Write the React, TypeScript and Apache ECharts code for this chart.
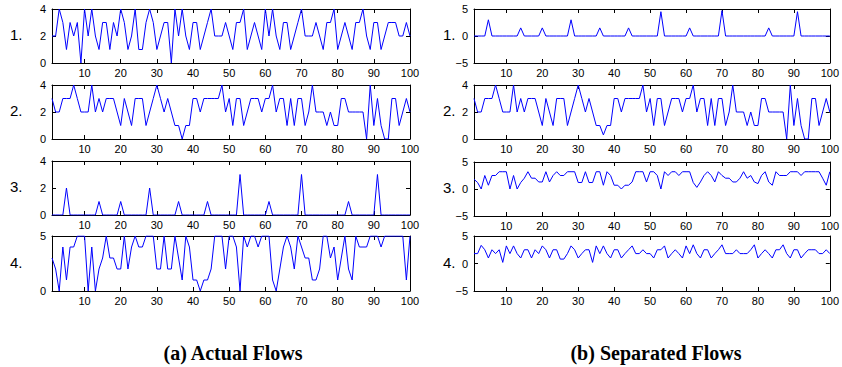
import React, { useEffect, useRef } from "react";
import * as echarts from "echarts";

const xTicks = [10, 20, 30, 40, 50, 60, 70, 80, 90, 100];

const actualFlow1 = [2,2,4,3,1,3,2,3,0,4, 2,4,2,1,3,3,1,3,2,4, 3,1,2,4,1,1,3,4,3,1, 2,3,3,0,4,2,4,2,1,3, 3,1,2,3,4,2,2,2,3,2, 1,3,3,4,1,2,3,2,1,4, 2,4,2,1,3,3,1,2,3,4, 2,2,2,3,2,1,3,3,4,1, 2,3,2,1,3,3,4,2,1,3, 3,1,2,3,3,3,2,2,3,2];
const actualFlow2 = [3,2,2,3,3,3,4,3,2,2, 2,4,2,3,2,3,3,3,2,1, 3,2,1,3,3,3,1,2,3,4, 3,2,3,2,1,1,0,1,1,3, 3,2,3,3,3,3,3,4,2,3, 1,3,3,1,2,3,3,3,2,3, 3,4,2,3,3,1,3,1,3,3, 1,2,4,2,2,2,1,2,1,1, 3,3,2,2,2,2,2,0,4,1, 3,1,0,0,3,3,1,2,3,2];
const actualFlow3 = [0,0,0,0,2,0,0,0,0,0, 0,0,0,1,0,0,0,0,0,1, 0,0,0,0,0,0,0,2,0,0, 0,0,0,0,0,1,0,0,0,0, 0,0,0,1,0,0,0,0,0,0, 0,0,3,0,0,0,0,0,0,0, 1,0,0,0,0,0,0,0,0,3, 0,0,0,0,0,0,0,0,0,0, 0,0,1,0,0,0,0,0,0,0, 3,0,0,0,0,0,0,0,0,0];
const actualFlow4 = [3,2,0,4,1,4,4,5,5,5, 0,4,0,2,3,5,3,3,2,2, 5,2,4,5,4,4,5,5,5,2, 2,5,2,2,5,3,1,5,4,1, 1,0,1,1,2,5,5,5,2,5, 5,4,0,5,4,5,5,4,5,5, 5,1,0,2,4,5,4,2,5,4, 3,3,1,1,2,5,5,3,4,1, 3,5,2,1,5,4,4,4,5,5, 5,4,5,5,5,5,5,5,1,5];

const sepFlow1 = [0,0,0,0,3,0,0,0,0,0, 0,0,0,1.5,0,0,0,0,0,1.5, 0,0,0,0,0,0,0,3,0,0, 0,0,0,0,0,1.5,0,0,0,0, 0,0,0,1.5,0,0,0,0,0,0, 0,0,4.5,0,0,0,0,0,0,0, 1.5,0,0,0,0,0,0,0,0,4.7, 0,0,0,0,0,0,0,0,0,0, 0,0,1.5,0,0,0,0,0,0,0, 4.5,0,0,0,0,0,0,0,0,0];
const sepFlow2 = [3,2,2,3,3,3,4,3,2,2, 2,4,2,3,2,3,3,3,2,1, 3,2,1,3,3,3,1,2,3,4, 3,2,3,2,1,1,0.3,1,1,3, 3,2,3,3,3,3,3,4,2,3, 1,3,3,1,2,3,3,3,2,3, 3,4,2,3,3,1,3,1,3,3, 1,2,4,2,2,2,1,2,1,1, 3,3,2,2,2,2,2,0,4,1, 3,1,0,0,3,3,1,2,3,2];
const sepFlow3 = [1.8,1.2,0,2.5,0.7,2.5,2.5,3.2,3.2,3.2, 0,2.5,0,1.2,2,3.2,2,2,1.3,1.3, 3.2,1.3,2.5,3.2,2.5,2.5,3.2,3.2,3.2,1.2, 1.2,3.2,1.2,1.2,3.2,3.2,0.7,3.2,2.5,0.7, 0.7,0,0.7,0.7,1.3,3.2,3.2,3.2,1.3,3.2, 3.2,2.5,0,3.2,2.5,3.2,3.2,2.5,3.2,3.2, 3.2,1.2,0.3,1.3,2.5,3.2,2.5,1.3,3.2,2.5, 2,2,1.3,1.3,2,3.2,2,2.5,1.3,1, 2.5,3.2,1.3,0.7,3.2,2.5,2.5,2.5,3.2,3.2, 3.2,2.5,3.2,3.2,3.2,3.2,3.2,2,0.7,3.2];
const sepFlow4 = [1.8,1.8,3.3,2.5,1,2.5,1.8,2.5,0.2,3.2, 1.8,3.2,1.8,1,2.5,2.5,1,2.5,1.8,3.2, 2.5,1,2.5,2.5,0.8,0.8,1.8,3.2,2.5,1, 1.8,2.5,2.5,0.2,3.2,1.8,3.2,1.8,1,2.5, 2.5,1,1.8,2.5,3.2,1.8,1.8,2.5,1.8,1.8, 1,2.5,2.5,3.2,1,1.8,2.5,1.8,1,3.2, 1.8,3.4,1.8,1,2.5,2.5,1,1.8,2.5,3.4, 1.8,1.8,1.8,2.5,1.8,1.8,1.8,2.5,3.4,1, 1.8,2.5,1.8,1,2.5,2.5,3.4,1.8,1,2.5, 2.5,1,1.8,2.5,2.5,2.5,1.8,1.8,2.5,1.8];

const panelLabels = ["1.", "2.", "3.", "4."];
const captions = ["(a) Actual Flows", "(b) Separated Flows"];

const panels = [
  { data: actualFlow1, min: 0, max: 4, interval: 2, left: 52, top: 9, width: 358, height: 54 },
  { data: actualFlow2, min: 0, max: 4, interval: 2, left: 52, top: 85, width: 358, height: 54 },
  { data: actualFlow3, min: 0, max: 4, interval: 2, left: 52, top: 161, width: 358, height: 54 },
  { data: actualFlow4, min: 0, max: 5, interval: 5, left: 52, top: 236, width: 358, height: 55 },
  { data: sepFlow1, min: -5, max: 5, interval: 5, left: 474, top: 9, width: 357, height: 54 },
  { data: sepFlow2, min: 0, max: 4, interval: 2, left: 474, top: 85, width: 357, height: 54 },
  { data: sepFlow3, min: -5, max: 5, interval: 5, left: 474, top: 162, width: 357, height: 54 },
  { data: sepFlow4, min: -5, max: 5, interval: 5, left: 474, top: 236, width: 357, height: 55 },
];

const FONT = "'Liberation Sans', Arial, Helvetica, sans-serif";

export default function App() {
  const ref = useRef<HTMLDivElement>(null);
  useEffect(() => {
    if (!ref.current) return;
    const chart = echarts.init(ref.current, undefined, { renderer: "svg" });
    const grids: any[] = [];
    const xAxes: any[] = [];
    const yAxes: any[] = [];
    const series: any[] = [];
    const axisLine = { show: true, onZero: false, lineStyle: { color: "#000", width: 1 } };
    panels.forEach((p, i) => {
      grids.push({ left: p.left, top: p.top, width: p.width, height: p.height, containLabel: false });
      xAxes.push({
        type: "value", gridIndex: i, min: 1, max: 100, position: "bottom",
        axisLine, splitLine: { show: false },
        axisTick: { show: true, inside: true, length: 4, customValues: xTicks, lineStyle: { color: "#000" } },
        axisLabel: { show: true, customValues: xTicks, fontSize: 11, color: "#000", margin: 4, fontFamily: FONT },
      });
      xAxes.push({
        type: "value", gridIndex: i, min: 1, max: 100, position: "top",
        axisLine, splitLine: { show: false },
        axisTick: { show: true, inside: true, length: 4, customValues: xTicks, lineStyle: { color: "#000" } },
        axisLabel: { show: false },
      });
      yAxes.push({
        type: "value", gridIndex: i, min: p.min, max: p.max, interval: p.interval, position: "left",
        axisLine, splitLine: { show: false },
        axisTick: { show: true, inside: true, length: 4, lineStyle: { color: "#000" } },
        axisLabel: {
          show: true, fontSize: 11, color: "#000", margin: 6, fontFamily: FONT,
          formatter: (v: number) => String(v).replace("-", "\u2212"),
        },
      });
      yAxes.push({
        type: "value", gridIndex: i, min: p.min, max: p.max, interval: p.interval, position: "right",
        axisLine, splitLine: { show: false },
        axisTick: { show: true, inside: true, length: 4, lineStyle: { color: "#000" } },
        axisLabel: { show: false },
      });
      series.push({
        type: "line",
        xAxisIndex: 2 * i,
        yAxisIndex: 2 * i,
        data: p.data.map((v, k) => [k + 1, v]),
        showSymbol: false,
        symbol: "none",
        lineStyle: { color: "#0000ff", width: 1 },
        z: 3,
      });
    });

    const graphics: any[] = [];
    panels.forEach((p, i) => {
      const col = i < 4 ? 0 : 1;
      graphics.push({
        type: "text",
        left: col === 0 ? 10 : 443,
        top: p.top + p.height / 2 - 9,
        style: { text: panelLabels[i % 4], font: `15px ${FONT}`, fill: "#000" },
      });
    });
    const capFont = `bold 20px 'Liberation Serif', 'Times New Roman', serif`;
    graphics.push({
      type: "text", x: 233, y: 353,
      style: { text: captions[0], font: capFont, fill: "#000", align: "center", verticalAlign: "middle" },
    });
    graphics.push({
      type: "text", x: 656, y: 353,
      style: { text: captions[1], font: capFont, fill: "#000", align: "center", verticalAlign: "middle" },
    });

    chart.setOption({
      animation: false,
      backgroundColor: "#fff",
      grid: grids,
      xAxis: xAxes,
      yAxis: yAxes,
      series,
      graphic: graphics,
    });
    return () => chart.dispose();
  }, []);
  return (
    <div
      ref={ref}
      style={{ position: "fixed", left: 0, top: 0, width: 842, height: 367, background: "#fff" }}
    />
  );
}
